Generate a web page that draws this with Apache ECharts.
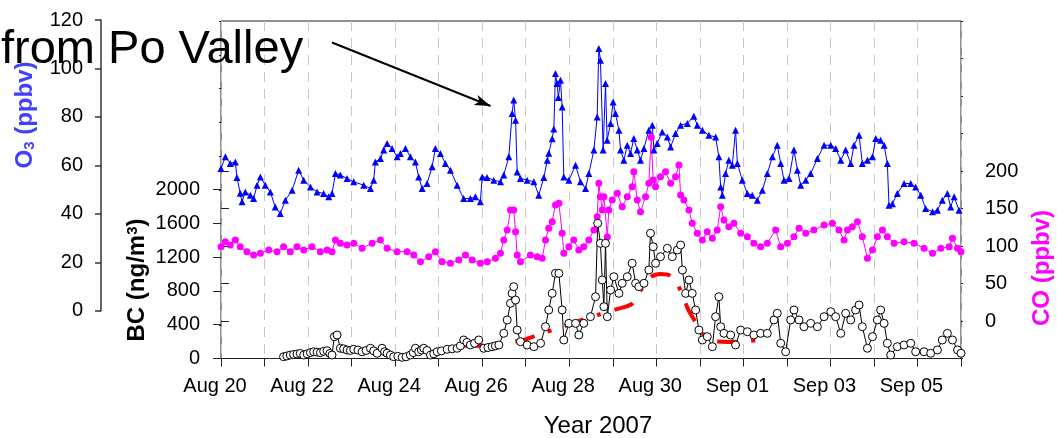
<!DOCTYPE html>
<html><head><meta charset="utf-8">
<script src="https://cdn.jsdelivr.net/npm/echarts@6/dist/echarts.min.js"></script>
<style>html,body{margin:0;padding:0;background:#fff}#c{width:1057px;height:438px}</style>
</head><body><div id="c"></div>
<script>
// x values are hours since 2007-08-20 00:00
const xTickLabels = ['Aug 20','Aug 22','Aug 24','Aug 26','Aug 28','Aug 30','Sep 01','Sep 03','Sep 05'];
const o3Ticks = [0,20,40,60,80,100,120];
const bcTicks = [0,400,800,1200,1600,2000];
const coTicks = [0,50,100,150,200];

const o3Hours = [0,2.4,5.1,7.9,8.8,10.6,11.6,13.4,16.2,18,19.9,21.7,24.4,27.2,29.9,32.7,35.5,39.2,42.8,45.6,49.3,53,56.6,59.4,61.2,63.1,65.8,69.5,73.2,78.7,82.4,84.2,85.1,87.9,89.7,91.6,94.3,97.1,98.9,101.7,104.4,107.2,109,110.9,113.6,116.4,118.2,121,123.7,126.5,130.2,133.8,137.5,140.3,143,144,146.7,150.4,154.1,155.9,158.7,160.5,161.4,162.4,163.3,165.1,168.8,172.5,175.2,178,179.9,180.7,182.6,183.5,184.4,185.3,186,187.2,188.1,189,191.8,195.5,198.2,201,202.8,205.6,207.4,208.3,209.2,210.7,212,212.9,214.8,216.2,217.5,219.4,220.3,222.1,224,225.8,227.6,229.5,231.3,233.2,235.9,237.8,238.7,240.5,243.3,246.1,247.9,250.6,253.4,257.1,260.7,262.6,265.4,269,272.7,274.5,275.5,276.4,278.2,280,281.9,283.7,284.7,287.4,290.2,292.9,295.7,298.5,301.2,304,306.7,308.6,310.4,313.2,315.9,317.8,319.6,322.4,325.1,328.8,332.5,336.2,338.9,341.7,344.4,347.2,349,351.8,353.6,356.4,359.2,361,363.7,365.6,367.4,368.3,370.2,372.9,376.6,380.3,383,385.8,388.5,392.3,395,397.7,400.5,402.3,404.2,406.9];
const o3Values = [58.7,63.5,60.8,61.4,55,48.5,45,49,47.7,46.3,51.8,55.2,51.8,49,42.8,40.1,45.6,49.7,58,53.9,51.1,49,48.4,47,48.4,56.6,56,54.6,53.2,51.8,50.4,53.9,61.4,62.8,66.3,69,67,63.5,64.9,67,63.5,61.4,55.2,50.4,52.5,59.4,67,64.9,60.8,58,51.8,46.3,46.3,47,45,55.2,55,53.9,53.2,56,63.5,81.4,87,78.6,57.3,54.6,53.9,53.2,47.7,55,62.1,65,71,75,97.9,93.8,88,95.1,84.1,55.2,53.9,60,53.2,50.4,56.6,66.3,80,108.2,103.4,66.3,93.8,70.4,77.3,86.2,81.4,74.5,66.3,62.1,68.3,64.9,71.1,66.3,62.1,67,74.5,76.6,66.3,69,73.8,71.7,67.6,73.1,76.6,77.3,80.3,76.6,74.5,72.4,71.7,63.5,51.1,47.7,56.6,62.1,60,74.5,60.8,53.9,48.4,47.7,45.6,49.7,56.6,63.5,68.3,60.8,53.9,54.6,66.3,58,51.8,53.9,56.6,62.8,68.3,68.3,67,62.1,66.3,60.8,68.3,72.4,60.8,62.1,63.5,71.1,70.4,68.3,60.8,43.5,44.2,48.4,52.5,52.5,51.1,47.7,42.2,40.8,41.5,45.6,48.4,42.8,47,41.5];

const coHours = [0,2.4,5.1,7.9,10.6,14.3,18,21.7,26.3,30.9,34.5,38.2,41.9,45.6,50.2,54.8,58.5,61.2,63.1,65.8,69.5,73.2,77.8,83.3,87.9,91.6,97.1,102.6,106.3,110,114.5,118.2,121.9,126.5,131.1,134.8,138.5,143,146.8,151.3,154.1,155.9,157.8,159.6,161.4,162.4,163.3,165.1,170.6,174.3,177.1,178.9,180.7,182.6,184.4,186.3,188.1,189,191.8,194.5,197.3,200,202.8,205.6,207.4,208.3,209.2,210.2,211.1,213,213.8,215.7,218.5,221.2,224,226.7,227.6,229.5,231.3,234.1,235.9,237.2,238.3,239.6,242.3,245.1,247.9,250.6,252.5,253.4,255.2,258,259.8,262.6,265.4,268.1,270.9,273.6,275.5,277.3,280,282.8,286.5,290.2,293.8,297.5,301.2,305.8,308.6,312.3,315.9,318.7,322.4,326.9,332.5,337.1,340.7,343.5,345.4,348.1,350.9,353.6,356.4,359.2,361.9,364.7,367.4,371.1,376.6,382.1,387.6,392.3,396.9,401.5,403.3,406.1,408];
const coValues = [99,105.7,101.3,108,99,92.4,88,90.3,94.7,92.4,99,92.4,99,94.7,99,92.4,94.7,92.4,108,103.6,101.3,103.6,97,103.6,108,97,92.4,92.4,88,79,85.7,92.4,79,77,81.3,88,81.3,77,79,83.6,90.3,108,121.3,148,148,119,88,79,88,85.7,83.6,108,123.6,132.4,154.7,157,117,90.3,99,108,94.7,99,108,121.3,139,183.6,165.7,148,165.7,112.4,148,161.3,170.3,152.4,165.7,179,199,161.3,145.7,165.7,183.6,245,188,179,192.4,199,183.6,192.4,208,168,161.3,148,130.3,117,108,119,110.3,121.3,152.4,134.7,125.7,130.3,117,112.4,103.6,99,103.6,121.3,99,103.6,112.4,123.6,117,121.3,128,130.3,121.3,108,121.3,125.7,132.4,112.4,83.6,94.7,112.4,121.3,112.4,103.6,105.7,103.6,97,90.3,97,99,110.3,97,92.4];

const bcHours = [34.5,36.3,38.2,40,41.9,43.7,45.6,47.5,49.3,51.1,53,54.8,56.6,58.5,60,61.2,62.5,64,65.8,67.6,69.5,71.3,73.2,75.5,77.8,80,82.4,84.2,86.1,88.8,90.2,91.6,93.4,95.2,97.5,99.9,102,104.4,106,107.2,109,110.5,111.8,113.6,115.5,117.3,119.2,121.5,124.7,127.5,130.2,132,133.8,135.6,137.5,139.8,142.1,144.9,147.2,149.5,151.3,153.2,155.9,157.8,159.6,160.5,161.4,162.4,163.3,165.1,168.8,172.5,176.2,178.9,180.7,182.6,184.4,186.3,188.1,189,191.8,195.5,197.3,200,203.7,206.5,207.7,209.2,210.2,211.1,212,213,214.8,216.6,219.4,221.2,224,226.7,228.6,230.4,233.2,235.9,236.8,238.3,239.6,242.3,246.1,248.8,251.6,253.4,254.4,256.2,258,259.8,261.7,263.5,265.4,268.1,270.9,272.7,274.5,275.5,277.3,281,283.7,286.5,290.2,293.8,297.5,301.2,304.9,306.7,308.6,311.3,314.1,315.9,318.7,321.4,325.1,328.8,332.5,336.2,338.9,341.7,344.4,347.2,349.9,351.8,353.6,356.4,359.2,361.9,363.7,365.6,367.4,369.2,372.9,376.6,380.3,383,387.6,391.3,395,397.7,400.5,403.3,406.1,408];
const bcValues = [21,30,41,48,53,60,41,55,70,80,75,69,85,92,60,41,258,278,121,115,101,95,109,100,80,95,121,90,62,121,80,62,40,21,25,14,20,41,70,121,80,100,121,95,41,55,80,90,109,115,121,150,219,190,160,180,219,121,130,140,150,160,298,456,653,771,850,692,337,199,160,140,180,376,574,771,1008,1008,574,219,416,416,278,416,495,731,1600,1363,929,613,1363,495,811,968,771,890,968,1127,890,850,890,1047,1482,1323,1127,1205,1304,1205,1284,1343,1047,771,929,771,574,337,219,258,140,495,731,376,298,278,160,337,317,278,298,298,456,535,180,80,456,574,456,376,416,376,495,554,495,298,535,456,574,633,376,121,258,456,574,416,180,41,140,160,180,80,80,62,101,219,298,219,101,62];

const trendHours = [133.7,144.7,156.8,166.8,177.3,186.1,198.2,207.6,219.2,226.8,231.2,236.7,242.2,247.7,251,254.3,257.6,262.6,267,270.9,279.7,291.8,295.1];
const trendValues = [150,155,185,220,300,360,450,515,590,650,800,960,1000,980,900,760,580,400,260,210,195,210,215];

// arrow annotation in (hours, O3 ppbv)
const arrowFrom = [61.2, 110.7];
const arrowTo = [148.6, 84.5];

const FONT = '"Liberation Sans", Arial, Helvetica, sans-serif';
const AX = '#222';
const pair = (xs, ys) => xs.map((x, i) => [x, ys[i]]);

const hiddenX = gi => ({gridIndex: gi, type: 'value', min: 0, max: 408, show: false});
const lbl = (margin) => ({show: true, fontSize: 20, color: '#000', fontFamily: FONT, margin: margin, formatter: v => String(v)});

const chart = echarts.init(document.getElementById('c'), null, {renderer: 'canvas'});
chart.setOption({
  animation: false,
  backgroundColor: '#fff',
  grid: [
    {left: 221, right: 96, top: 21, bottom: 79.5, show: true, borderColor: AX, borderWidth: 1, backgroundColor: 'transparent'},
    {left: 221, right: 96, top: 20, bottom: 127.3},
    {left: 221, right: 96, top: 189.5, bottom: 79.5},
    {left: 221, right: 96, top: 171, bottom: 117}
  ],
  xAxis: [
    {gridIndex: 0, type: 'value', min: 0, max: 408, interval: 24,
     axisLine: {show: true, onZero: false, lineStyle: {color: AX, width: 1}},
     axisTick: {show: true, length: 8, lineStyle: {color: AX, width: 1}},
     axisLabel: {show: true, fontSize: 20, color: '#000', fontFamily: FONT, margin: 18, padding: [0, 12, 0, 0],
                 formatter: v => (v % 48 === 0 && xTickLabels[v / 48]) ? xTickLabels[v / 48] : ''},
     splitLine: {show: true, lineStyle: {color: '#c8c8c8', width: 1, type: [10, 7]}}},
    hiddenX(1), hiddenX(2), hiddenX(3)
  ],
  yAxis: [
    {gridIndex: 0, type: 'value', position: 'left', min: 0, max: 4000, interval: 400,
     axisLine: {show: false}, axisTick: {show: true, length: 2, lineStyle: {color: AX}},
     axisLabel: {show: false}, splitLine: {show: false}},
    {gridIndex: 0, type: 'value', position: 'right', min: -50, max: 400, interval: 50,
     axisLine: {show: false}, axisTick: {show: true, length: 2, lineStyle: {color: AX}},
     axisLabel: {show: false}, splitLine: {show: false}},
    {gridIndex: 1, type: 'value', position: 'left', offset: 120, min: o3Ticks[0], max: o3Ticks[o3Ticks.length - 1], interval: 20,
     axisLine: {show: true, onZero: false, lineStyle: {color: '#333', width: 1.5}},
     axisTick: {show: true, length: 6, lineStyle: {color: '#333', width: 1.5}},
     axisLabel: lbl(18), splitLine: {show: false}},
    {gridIndex: 2, type: 'value', position: 'left', min: bcTicks[0], max: bcTicks[bcTicks.length - 1], interval: 400,
     axisLine: {show: false}, axisTick: {show: true, length: 8, lineStyle: {color: AX}},
     axisLabel: lbl(21), splitLine: {show: false}},
    {gridIndex: 3, type: 'value', position: 'right', min: coTicks[0], max: coTicks[coTicks.length - 1], interval: 50,
     axisLine: {show: false}, axisTick: {show: true, length: 8, lineStyle: {color: AX}},
     axisLabel: lbl(24), splitLine: {show: false}}
  ],
  series: [
    {type: 'line', name: 'O3', xAxisIndex: 1, yAxisIndex: 2, data: pair(o3Hours, o3Values),
     symbol: 'triangle', symbolSize: 7, showAllSymbol: true, clip: false,
     lineStyle: {color: '#0000ff', width: 1}, itemStyle: {color: '#0000ff'},
     markLine: {silent: true, animation: false, symbol: ['none', 'arrow'], symbolSize: [8, 16],
                lineStyle: {color: '#000', width: 2, type: 'solid'}, label: {show: false},
                emphasis: {disabled: true},
                data: [[{coord: arrowFrom}, {coord: arrowTo}]]}},
    {type: 'line', name: 'CO', xAxisIndex: 3, yAxisIndex: 4, data: pair(coHours, coValues),
     symbol: 'circle', symbolSize: 7, showAllSymbol: true, clip: false,
     lineStyle: {color: '#ff00ff', width: 1}, itemStyle: {color: '#ff00ff'}},
    {type: 'line', name: 'BC', xAxisIndex: 2, yAxisIndex: 3, data: pair(bcHours, bcValues),
     symbol: 'circle', symbolSize: 8, showAllSymbol: true, clip: false,
     lineStyle: {color: '#000', width: 1}, itemStyle: {color: '#fff', borderColor: '#000', borderWidth: 1}},
    {type: 'line', name: 'BC trend', xAxisIndex: 2, yAxisIndex: 3, data: pair(trendHours, trendValues),
     symbol: 'none', smooth: 0.3, clip: false, z: 3,
     lineStyle: {color: '#ff0000', width: 4, type: [20, 14, 4, 14]}}
  ],
  graphic: [
    {type: 'text', x: 1, y: 50, z: 100,
     style: {text: 'from Po Valley', font: '47px ' + FONT, fill: '#000', align: 'left', verticalAlign: 'middle'}},
    {type: 'text', x: 598, y: 426, z: 100,
     style: {text: 'Year 2007', font: '24px ' + FONT, fill: '#000', align: 'center', verticalAlign: 'middle'}},
    {type: 'text', x: 25, y: 115, rotation: Math.PI / 2, z: 100,
     style: {text: 'O{sub|3} (ppbv)', font: 'bold 24px ' + FONT, fill: '#4040ff', align: 'center', verticalAlign: 'middle',
             rich: {sub: {font: 'bold 15px ' + FONT, fill: '#4040ff', verticalAlign: 'bottom'}}}},
    {type: 'text', x: 137, y: 280, rotation: Math.PI / 2, z: 100,
     style: {text: 'BC (ng/m{sup|3})', font: 'bold 24px ' + FONT, fill: '#000', align: 'center', verticalAlign: 'middle',
             rich: {sup: {font: 'bold 15px ' + FONT, fill: '#000', verticalAlign: 'top'}}}},
    {type: 'text', x: 1042, y: 268, rotation: Math.PI / 2, z: 100,
     style: {text: 'CO (ppbv)', font: 'bold 24px ' + FONT, fill: '#ff00ff', align: 'center', verticalAlign: 'middle'}}
  ]
});
</script>
</body></html>
